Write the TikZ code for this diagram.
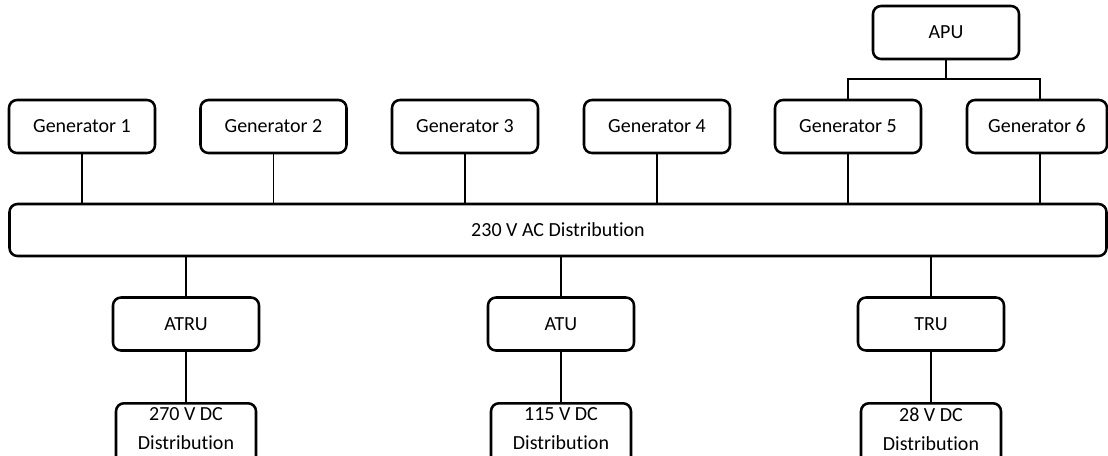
\documentclass[tikz,border=0pt]{standalone}
\usepackage{fontspec}
\setmainfont[Ligatures=NoCommon]{Carlito}
\begin{document}
\begin{tikzpicture}[x=0.75pt,y=-0.75pt,
  box/.style={draw=black, line width=1.9pt, rounded corners=6pt, rectangle,
    minimum width=146*0.75pt, minimum height=53*0.75pt, inner sep=0pt,
    text height=12.6pt, text depth=3pt,
    font=\fontsize{15}{21.75}\selectfont},
  distbox/.style={box, minimum width=140*0.75pt, minimum height=70*0.75pt, anchor=north},
  lbl/.style={font=\fontsize{15}{21.75}\selectfont, align=center, inner sep=0pt},
  wire/.style={draw=black, line width=0.8pt}]
\useasboundingbox (0,0) rectangle (1108,455);
\clip (0,0) rectangle (1108,455);
% generators
\node[box] (g1) at (82,126.5) {Generator 1};
\node[box] (g2) at (273.5,126.5) {Generator 2};
\node[box] (g3) at (465,126.5) {Generator 3};
\node[box] (g4) at (657,126.5) {Generator 4};
\node[box] (g5) at (848,126.5) {Generator 5};
\node[box, minimum width=140*0.75pt] (g6) at (1037,126.5) {Generator 6};
\node[box] (apu) at (946,32.5) {APU};
% bus
\node[box, minimum width=1097*0.75pt, minimum height=52*0.75pt] (bus) at (558,230) {230 V AC Distribution};
% converters
\node[box] (atru) at (186,324) {ATRU};
\node[box] (atu) at (561,324) {ATU};
\node[box] (tru) at (931,324) {TRU};
% distributions
\node[distbox] (d1) at (186,402) {};
\node[distbox] (d2) at (561,402) {};
\node[distbox] (d3) at (931,402) {};
\node[lbl, anchor=north] (t1) at ([yshift=-3.8pt]d1.north) {270 V DC\\Distribution};
\node[lbl, anchor=north] (t2) at ([yshift=-3.8pt]d2.north) {115 V DC\\Distribution};
\node[lbl, anchor=north] (t3) at ([yshift=-3.8pt]d3.north) {28 V DC\\Distribution};
% wires
\coordinate (j) at (946,79);
\coordinate (g6t) at ([xshift=2.25pt]g6.north);
\coordinate (g6b) at ([xshift=2.25pt]g6.south);
\draw[wire] (apu.south) -- (j);
\draw[wire] (g5.north) |- (j) -| (g6t);
\foreach \g in {g1,g2,g3,g4,g5}{
  \draw[wire] (\g.south) -- (\g.south |- bus.north);
}
\draw[wire] (g6b) -- (g6b |- bus.north);
\draw[wire] (bus.south -| atru.north) -- (atru.north);
\draw[wire] (bus.south -| atu.north) -- (atu.north);
\draw[wire] (bus.south -| tru.north) -- (tru.north);
\draw[wire] (atru.south) -- (d1.north);
\draw[wire] (atu.south) -- (d2.north);
\draw[wire] (tru.south) -- (d3.north);
\end{tikzpicture}
\end{document}
